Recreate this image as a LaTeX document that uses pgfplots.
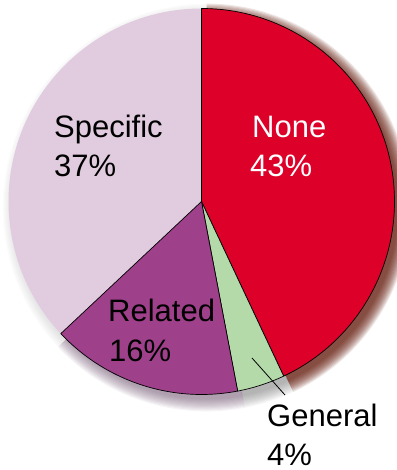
\documentclass[border=0pt]{standalone}
\usepackage{fontspec}
\setmainfont{Liberation Sans}
\usepackage{pgfplots}
\usepackage{pgfplotstable}
\pgfplotsset{compat=1.18}

\definecolor{cNone}{RGB}{221,0,40}
\definecolor{cGeneral}{RGB}{180,218,170}
\definecolor{cRelated}{RGB}{158,64,138}
\definecolor{cSpecific}{RGB}{225,204,223}
\definecolor{sNone}{RGB}{95,20,5}
\definecolor{sGeneral}{RGB}{110,110,110}
\definecolor{sRelated}{RGB}{100,70,100}
\definecolor{sSpecific}{RGB}{150,150,150}

% Shares in percent, clockwise from twelve o'clock
\pgfplotstableread{
label    value
None     43
General  4
Related  16
Specific 37
}\piedata

% Slice values and their start/end angles
\newcommand\getslice[2]{%
  \pgfplotstablegetelem{#1}{value}\of\piedata
  \expandafter\xdef\csname val#2\endcsname{\pgfplotsretval}}
\getslice{0}{A}\getslice{1}{B}\getslice{2}{C}\getslice{3}{D}
\pgfmathsetmacro\angA{90}
\pgfmathsetmacro\angB{90-3.6*\valA}
\pgfmathsetmacro\angC{90-3.6*(\valA+\valB)}
\pgfmathsetmacro\angD{90-3.6*(\valA+\valB+\valC)}
\pgfmathsetmacro\angE{90-3.6*(\valA+\valB+\valC+\valD)}

\def\cx{201.5}
\def\cy{268.5}
\def\R{193pt}

\begin{document}
\begin{tikzpicture}
\begin{axis}[
  x=1pt, y=1pt,
  xmin=0, xmax=396, ymin=0, ymax=470,
  hide axis, clip=false,
  scale only axis,
]
% soft drop shadow, offset to the lower right
\pgfplotsinvokeforeach{1,...,12}{
  \fill[sNone, opacity=0.11]
    (axis cs:\cx+5,\cy-6) -- ++(\angA:{\R+12pt-1.1pt*#1})
    arc[start angle=\angA, end angle=\angB, radius={\R+12pt-1.1pt*#1}] -- cycle;
  \fill[sGeneral, opacity=0.06]
    (axis cs:\cx+5,\cy-6) -- ++(\angB:{\R+12pt-1.1pt*#1})
    arc[start angle=\angB, end angle=\angC, radius={\R+12pt-1.1pt*#1}] -- cycle;
  \fill[sRelated, opacity=0.06]
    (axis cs:\cx+5,\cy-6) -- ++(\angC:{\R+12pt-1.1pt*#1})
    arc[start angle=\angC, end angle=\angD, radius={\R+12pt-1.1pt*#1}] -- cycle;
  \fill[sSpecific, opacity=0.03]
    (axis cs:\cx+5,\cy-6) -- ++(\angD:{\R+12pt-1.1pt*#1})
    arc[start angle=\angD, end angle=\angE, radius={\R+12pt-1.1pt*#1}] -- cycle;
}
% slices
\fill[cSpecific]
  (axis cs:\cx,\cy) -- ++(\angD:\R) arc[start angle=\angD, end angle=\angE, radius=\R] -- cycle;
\filldraw[fill=cNone, draw=black, line width=0.7pt, line join=round]
  (axis cs:\cx,\cy) -- ++(\angA:\R) arc[start angle=\angA, end angle=\angB, radius=\R] -- cycle;
\filldraw[fill=cGeneral, draw=black, line width=0.7pt, line join=round]
  (axis cs:\cx,\cy) -- ++(\angB:\R) arc[start angle=\angB, end angle=\angC, radius=\R] -- cycle;
\filldraw[fill=cRelated, draw=black, line width=0.7pt, line join=round]
  (axis cs:\cx,\cy) -- ++(\angC:\R) arc[start angle=\angC, end angle=\angD, radius=\R] -- cycle;

% labels
\tikzset{lbl/.style={anchor=base west, inner sep=0pt, font=\fontsize{31}{37}\selectfont}}
\node[lbl, white] at (axis cs:252,332) {None};
\node[lbl, white] at (axis cs:250,293.5) {\valA\%};
\node[lbl] at (axis cs:54,332) {Specific};
\node[lbl] at (axis cs:54,293.5) {\valD\%};
\node[lbl] at (axis cs:108,148.5) {Related};
\node[lbl] at (axis cs:109,108.5) {\valC\%};
\node[lbl] at (axis cs:267,43.5) {General};
\node[lbl] at (axis cs:267,5) {\valB\%};
\draw[black, line width=0.8pt] (axis cs:252,112) -- (axis cs:285,75);
\end{axis}
\pgfresetboundingbox
\path (0,0) rectangle (396pt,470pt);
\end{tikzpicture}
\end{document}
